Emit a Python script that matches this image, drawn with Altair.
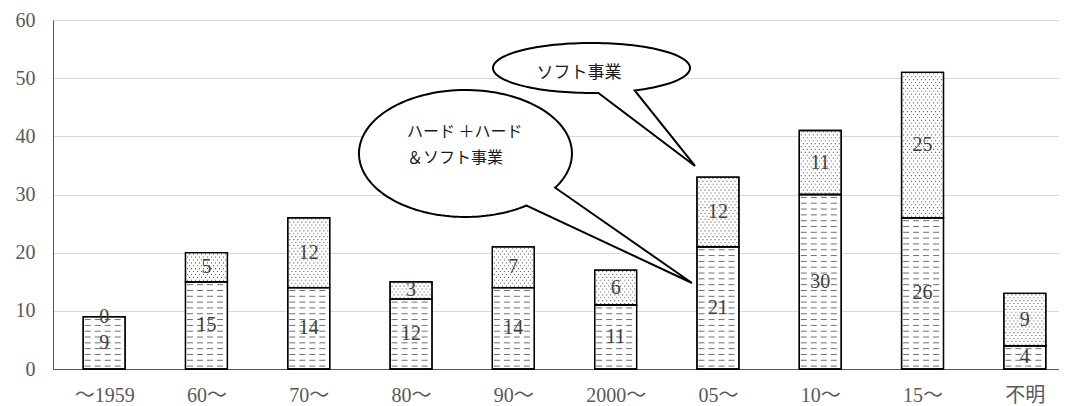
import json
import math
import altair as alt
import pandas as pd

# ---------------- data ----------------
categories = ["～1959", "60～", "70～", "80～", "90～", "2000～", "05～", "10～", "15～", "不明"]
hard_values = [9, 15, 14, 12, 14, 11, 21, 30, 26, 4]   # ハード＋ハード&ソフト事業 (dashed)
soft_values = [0, 5, 12, 3, 7, 6, 12, 11, 25, 9]       # ソフト事業 (dotted)
y_ticks = [0, 10, 20, 30, 40, 50, 60]

callout_soft = "ソフト事業"
callout_hard = ["ハード ＋ハード", "＆ソフト事業"]

# ---------------- tables built from the arrays ----------------
segs = []
for i, (h, s) in enumerate(zip(hard_values, soft_values)):
    segs.append(dict(idx=i, series="hard", y0=0, y1=h, val=h, mid=h / 2))
    segs.append(dict(idx=i, series="soft", y0=h, y1=h + s, val=s, mid=h + s / 2))
seg_df = pd.DataFrame(segs)

dash_rows = []
for i, h in enumerate(hard_values):
    for k in range(h):
        dash_rows.append(dict(idx=i, y=k + 0.5))
dash_df = pd.DataFrame(dash_rows)

dot_rows = []
for i, (h, s) in enumerate(zip(hard_values, soft_values)):
    for j in range(2 * s):
        dot_rows.append(dict(idx=i, y=h + 0.25 + 0.5 * j, par=j % 2))
dot_df = pd.DataFrame(dot_rows)

# ---------------- scales / axes ----------------
HALF = 0.205
xscale = alt.Scale(domain=[-0.5, 9.334], nice=False, zero=False)
yscale = alt.Scale(domain=[0, 60], nice=False)

SERIF = "Liberation Serif, Noto Sans CJK JP"
label_expr = json.dumps(categories, ensure_ascii=False) + "[datum.value]"

x_axis = alt.Axis(values=list(range(len(categories))), labelExpr=label_expr, grid=False,
                  ticks=False, domainColor="#595959", domainWidth=1, labelFont=SERIF,
                  labelFontSize=20, labelColor="#595959", labelPadding=16,
                  labelFlush=False, labelOverlap=False, title=None)
y_axis = alt.Axis(values=y_ticks, grid=True, gridColor="#d9d9d9", gridWidth=1, ticks=False,
                  domainColor="#595959", domainWidth=1, labelFont=SERIF, labelFontSize=20,
                  labelColor="#595959", labelPadding=18, title=None)


def X(field):
    return alt.X(field, scale=xscale, axis=x_axis, title=None)


def Y(field):
    return alt.Y(field, scale=yscale, axis=y_axis, title=None)


base_seg = alt.Chart(seg_df).transform_calculate(
    xl=f"datum.idx - {HALF}", xr=f"datum.idx + {HALF}")

bars_fill = base_seg.mark_rect(fill="white", stroke="black", strokeWidth=1.3).encode(
    x=X("xl:Q"), x2="xr:Q", y=Y("y0:Q"), y2="y1:Q")

INSET = 0.19
dash_layer = alt.Chart(dash_df).transform_calculate(
    xl=f"datum.idx - {INSET}", xr=f"datum.idx + {INSET}"
).mark_rule(color="#707070", strokeWidth=1, strokeDash=[6, 4]).encode(
    x=X("xl:Q"), x2="xr:Q", y=Y("y:Q"))

dot_even = alt.Chart(dot_df).transform_filter("datum.par == 0").transform_calculate(
    xl=f"datum.idx - {INSET}", xr=f"datum.idx + {INSET}"
).mark_rule(color="#5e5e5e", strokeWidth=1.1, strokeDash=[1, 3]).encode(
    x=X("xl:Q"), x2="xr:Q", y=Y("y:Q"))

dot_odd = alt.Chart(dot_df).transform_filter("datum.par == 1").transform_calculate(
    xl=f"datum.idx - {INSET}", xr=f"datum.idx + {INSET}"
).mark_rule(color="#5e5e5e", strokeWidth=1.1, strokeDash=[1, 3], strokeDashOffset=2).encode(
    x=X("xl:Q"), x2="xr:Q", y=Y("y:Q"))

bars_outline = base_seg.mark_rect(fillOpacity=0, stroke="black", strokeWidth=1.3).encode(
    x=X("xl:Q"), x2="xr:Q", y=Y("y0:Q"), y2="y1:Q")

value_labels = alt.Chart(seg_df).mark_text(
    font=SERIF, fontSize=20, color="#404040", baseline="middle", align="center"
).encode(x=X("idx:Q"), y=Y("mid:Q"), text="val:Q")


# ---------------- callouts ----------------
def bubble_path(rx, ry, a_start, a_end, tip, n=140):
    a0 = math.radians(a_start)
    a1 = math.radians(a_end + 360)
    pts = []
    for k in range(n + 1):
        t = a0 + (a1 - a0) * k / n
        pts.append((rx * math.cos(t), ry * math.sin(t)))
    pts.append(tip)
    return "M" + " L".join(f"{px:.2f},{py:.2f}" for px, py in pts) + " Z"


path_soft = bubble_path(98.5, 25, 86, 64, (103.5, 98))
path_hard = bubble_path(106.5, 63.5, 55, 32.6, (226.5, 129.5))

bub_soft_df = pd.DataFrame(dict(x=[4.764], y=[51.75]))
bub_hard_df = pd.DataFrame(dict(x=[3.532], y=[37.05]))


def bubble_layer(df, path):
    return alt.Chart(df).mark_point(
        shape=path, size=4, filled=True, fill="white", stroke="black",
        strokeWidth=2, opacity=1
    ).encode(x=X("x:Q"), y=Y("y:Q"))


txt_soft_df = pd.DataFrame(dict(x=[4.642], y=[50.9], t=[callout_soft]))
txt_hard_df = pd.DataFrame(dict(x=[2.96, 2.96], y=[40.74, 36.27], t=callout_hard))

txt_soft = alt.Chart(txt_soft_df).mark_text(
    font="Noto Sans CJK JP", fontSize=17, color="#1a1a1a", align="center", baseline="middle"
).encode(x=X("x:Q"), y=Y("y:Q"), text="t:N")

txt_hard = alt.Chart(txt_hard_df).mark_text(
    font="Noto Sans CJK JP", fontSize=16, color="#1a1a1a", align="left", baseline="middle"
).encode(x=X("x:Q"), y=Y("y:Q"), text="t:N")

chart = alt.layer(
    bars_fill, dash_layer, dot_even, dot_odd, bars_outline, value_labels,
    bubble_layer(bub_hard_df, path_hard), bubble_layer(bub_soft_df, path_soft),
    txt_soft, txt_hard,
).properties(
    width=1006, height=349,
    autosize=alt.AutoSizeParams(type="none"),
    padding={"left": 45, "top": 12, "right": 0, "bottom": 37},
).configure_view(strokeWidth=0).configure(background="white")

chart.save("out.html", embed_options={"renderer": "svg", "actions": False})
